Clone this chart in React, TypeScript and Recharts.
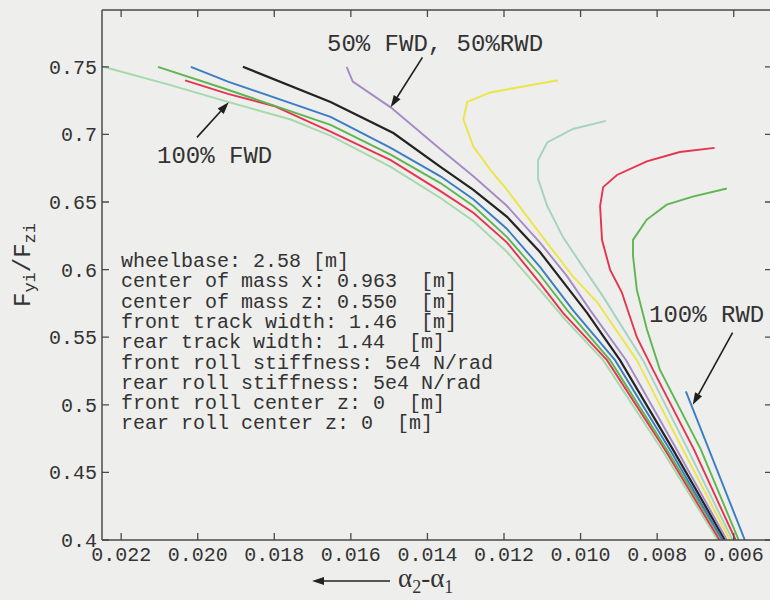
import { LineChart, Line, XAxis, YAxis, ReferenceLine } from "recharts"

// slip-angle difference (x) vs. normalised lateral force (y), one curve per torque split
const xTicks = [0.022, 0.02, 0.018, 0.016, 0.014, 0.012, 0.01, 0.008, 0.006]
const xTickLabels = ["0.022", "0.020", "0.018", "0.016", "0.014", "0.012", "0.010", "0.008", "0.006"]
const yTicks = [0.4, 0.45, 0.5, 0.55, 0.6, 0.65, 0.7, 0.75]
const yTickLabels = ["0.4", "0.45", "0.5", "0.55", "0.6", "0.65", "0.7", "0.75"]
const xDomain = [0.005, 0.0225]
const yDomain = [0.4, 0.792]

// [alpha2 - alpha1, Fy/Fz]
const rwd0 = [[0.02247, 0.75], [0.02078, 0.737], [0.01921, 0.724], [0.01757, 0.711], [0.01653, 0.699], [0.01496, 0.676], [0.01366, 0.653], [0.0128, 0.636], [0.01192, 0.613], [0.01106, 0.585], [0.0104, 0.563], [0.00941, 0.533], [0.00788, 0.467], [0.00642, 0.4]]
const rwd10 = [[0.02033, 0.74], [0.01921, 0.73], [0.01801, 0.721], [0.01653, 0.702], [0.01496, 0.681], [0.01366, 0.658], [0.0128, 0.642], [0.01192, 0.62], [0.01106, 0.59], [0.01046, 0.568], [0.00931, 0.533], [0.0078, 0.467], [0.00637, 0.4]]
const rwd20 = [[0.02104, 0.75], [0.01921, 0.733], [0.01653, 0.707], [0.01496, 0.685], [0.01366, 0.664], [0.0128, 0.647], [0.01192, 0.624], [0.01106, 0.596], [0.01035, 0.57], [0.00923, 0.533], [0.00775, 0.467], [0.00631, 0.4]]
const rwd30 = [[0.02018, 0.75], [0.01921, 0.739], [0.01653, 0.713], [0.01496, 0.69], [0.01366, 0.669], [0.0128, 0.652], [0.01192, 0.63], [0.01106, 0.602], [0.0102, 0.57], [0.0091, 0.533], [0.00767, 0.467], [0.00629, 0.4]]
const rwd40 = [[0.01882, 0.75], [0.01653, 0.724], [0.01489, 0.701], [0.01366, 0.676], [0.0128, 0.659], [0.01192, 0.639], [0.01106, 0.613], [0.01035, 0.587], [0.00983, 0.568], [0.00897, 0.533], [0.00759, 0.467], [0.00623, 0.4]]
const rwd50 = [[0.01611, 0.75], [0.01595, 0.739], [0.01496, 0.72], [0.01366, 0.689], [0.0128, 0.669], [0.01192, 0.647], [0.01106, 0.62], [0.01035, 0.595], [0.00975, 0.57], [0.00881, 0.533], [0.00749, 0.467], [0.00618, 0.4]]
const rwd60 = [[0.01059, 0.74], [0.01236, 0.731], [0.01296, 0.724], [0.01306, 0.711], [0.0128, 0.691], [0.01236, 0.674], [0.01192, 0.659], [0.01139, 0.639], [0.0108, 0.617], [0.0102, 0.595], [0.00957, 0.576], [0.00853, 0.533], [0.00733, 0.467], [0.0061, 0.4]]
const rwd70 = [[0.00934, 0.71], [0.0102, 0.704], [0.01087, 0.694], [0.01111, 0.681], [0.01111, 0.667], [0.01087, 0.647], [0.01046, 0.624], [0.00994, 0.602], [0.00941, 0.58], [0.00837, 0.533], [0.0072, 0.467], [0.00603, 0.4]]
const rwd80 = [[0.0065, 0.69], [0.00741, 0.687], [0.00827, 0.68], [0.00905, 0.67], [0.00941, 0.661], [0.00949, 0.647], [0.00944, 0.622], [0.00923, 0.6], [0.00892, 0.583], [0.00884, 0.576], [0.00853, 0.55], [0.00811, 0.526], [0.00704, 0.467], [0.00595, 0.4]]
const rwd90 = [[0.00618, 0.66], [0.00707, 0.654], [0.00775, 0.648], [0.00827, 0.637], [0.00863, 0.622], [0.00863, 0.61], [0.00853, 0.585], [0.00827, 0.556], [0.00793, 0.526], [0.00686, 0.467], [0.00587, 0.4]]
const rwd100 = [[0.00725, 0.51], [0.00571, 0.4]]

const curves = [rwd0, rwd10, rwd20, rwd30, rwd40, rwd50, rwd60, rwd70, rwd80, rwd90, rwd100]
const colors = ["#a3d9ab", "#e5344f", "#5db651", "#3b7dc4", "#232323", "#a58ac6", "#ece546", "#a4d3c2", "#e5344f", "#5db651", "#3b7dc4"]

// arrows: [tailX, tailY, tipX, tipY]
const arrows = [
  [0.02002, 0.6978, 0.01919, 0.7237],
  [0.01413, 0.757, 0.01496, 0.72],
  [0.00603, 0.5533, 0.00707, 0.5],
]

const params = [
  "wheelbase: 2.58 [m]",
  "center of mass x: 0.963  [m]",
  "center of mass z: 0.550  [m]",
  "front track width: 1.46  [m]",
  "rear track width: 1.44  [m]",
  "front roll stiffness: 5e4 N/rad",
  "rear roll stiffness: 5e4 N/rad",
  "front roll center z: 0  [m]",
  "rear roll center z: 0  [m]",
]

const mono = "'Liberation Mono', 'Courier New', monospace"
const ink = "#333"
const axisColor = "#4a4a4a"

// chart layout
const chartW = 790
const chartH = 600
const margin = { top: 10, right: 18, bottom: 0, left: 0 }
const yAxisW = 102
const xAxisH = 60
const plotW = chartW - margin.left - margin.right - yAxisW
const plotH = chartH - margin.top - margin.bottom - xAxisH

const fmt = (v: number, ticks: number[], labels: string[]) => {
  const i = ticks.findIndex((t) => Math.abs(t - v) < 1e-9)
  return i >= 0 ? labels[i] : String(v)
}
const keepSpaces = (s: string) => s.replace(/ /g, "\u00a0")

// bottom tick: inward mark on the bottom and on the top edge, plus the label
const BottomTick = ({ x, y, payload }: any) => (
  <g>
    <path d={`M${x},${y}v-7M${x},${y - plotH}v7`} stroke={axisColor} strokeWidth={1.3} fill="none" />
    <text x={x} y={y + 21} textAnchor="middle" fontFamily={mono} fontSize={20} fill={ink}>
      {fmt(payload.value, xTicks, xTickLabels)}
    </text>
  </g>
)
// left tick: inward mark on the left and on the right edge, plus the label
const LeftTick = ({ x, y, payload }: any) => (
  <g>
    <path d={`M${x},${y}h7M${x + plotW},${y}h-7`} stroke={axisColor} strokeWidth={1.3} fill="none" />
    <text x={x - 5} y={y + 7} textAnchor="end" fontFamily={mono} fontSize={20} fill={ink}>
      {fmt(payload.value, yTicks, yTickLabels)}
    </text>
  </g>
)

const Arrow = ({ x1, y1, x2, y2 }: any) => {
  const a = Math.atan2(y2 - y1, x2 - x1)
  const len = 12
  const half = 4
  const bx = x2 - len * Math.cos(a)
  const by = y2 - len * Math.sin(a)
  const px = -Math.sin(a) * half
  const py = Math.cos(a) * half
  return (
    <g>
      <line x1={x1} y1={y1} x2={bx} y2={by} stroke="#1e1e1e" strokeWidth={1.6} />
      <polygon points={`${x2},${y2} ${bx + px},${by + py} ${bx - px},${by - py}`} fill="#1e1e1e" />
    </g>
  )
}

export default function App() {
  const boxLeft = margin.left + yAxisW
  const boxRight = boxLeft + plotW
  return (
    <div style={{ position: "absolute", left: 0, top: 0, width: 770, height: 600, overflow: "hidden", background: "#eeeeec" }}>
      <LineChart width={chartW} height={chartH} margin={margin} style={{ position: "absolute", left: 0, top: 0 }}>
        <XAxis
          type="number"
          dataKey="x"
          domain={xDomain}
          reversed
          allowDataOverflow
          ticks={xTicks}
          height={xAxisH}
          tickSize={0}
          tickMargin={0}
          tickLine={false}
          stroke={axisColor}
          strokeWidth={1.5}
          tick={<BottomTick />}
          interval={0}
        />
        <YAxis
          type="number"
          domain={yDomain}
          allowDataOverflow
          ticks={yTicks}
          width={yAxisW}
          tickSize={0}
          tickMargin={0}
          tickLine={false}
          stroke={axisColor}
          strokeWidth={1.5}
          tick={<LeftTick />}
          interval={0}
        />
        {curves.map((c, i) => (
          <Line
            key={i}
            data={c.map(([x, y]) => ({ x, y }))}
            dataKey="y"
            type="linear"
            stroke={colors[i]}
            strokeWidth={i === 4 ? 2.2 : 1.9}
            dot={false}
            activeDot={false}
            isAnimationActive={false}
          />
        ))}
        {arrows.map(([tx, ty, hx, hy], i) => (
          <ReferenceLine
            key={`arrow-${i}`}
            segment={[{ x: tx, y: ty }, { x: hx, y: hy }]}
            shape={<Arrow />}
          />
        ))}
      </LineChart>
      <svg width={770} height={600} style={{ position: "absolute", left: 0, top: 0, pointerEvents: "none" }}>
        {/* top and right edges of the plot box */}
        <polyline
          points={`${boxLeft},${margin.top} ${boxRight},${margin.top} ${boxRight},${margin.top + plotH}`}
          fill="none"
          stroke={axisColor}
          strokeWidth={1.5}
        />
        <g fontFamily={mono} fill={ink}>
          <text x={327} y={51} fontSize={24}>{keepSpaces("50% FWD, 50%RWD")}</text>
          <text x={157} y={163} fontSize={24}>{keepSpaces("100% FWD")}</text>
          <text x={649} y={322} fontSize={24}>{keepSpaces("100% RWD")}</text>
          {params.map((p, i) => (
            <text key={p} x={121} y={267 + i * 20.3} fontSize={20}>
              {keepSpaces(p)}
            </text>
          ))}
          <text transform="rotate(-90 30 265)" x={30} y={265} textAnchor="middle" fontSize={24}>
            F<tspan fontSize={17} dy={5}>yi</tspan>
            <tspan dy={-5}>/F</tspan>
            <tspan fontSize={17} dy={5}>zi</tspan>
          </text>
        </g>
        <line x1={318} y1={581} x2={390} y2={581} stroke="#222" strokeWidth={1.6} />
        <polygon points="312,581 324,577 324,585" fill="#222" />
        <text x={398} y={587} fontFamily="'Liberation Serif', serif" fontSize={27} fill={ink}>
          α<tspan fontSize={18} dy={6}>2</tspan>
          <tspan dy={-6}>-α</tspan>
          <tspan fontSize={18} dy={6}>1</tspan>
        </text>
      </svg>
    </div>
  )
}
